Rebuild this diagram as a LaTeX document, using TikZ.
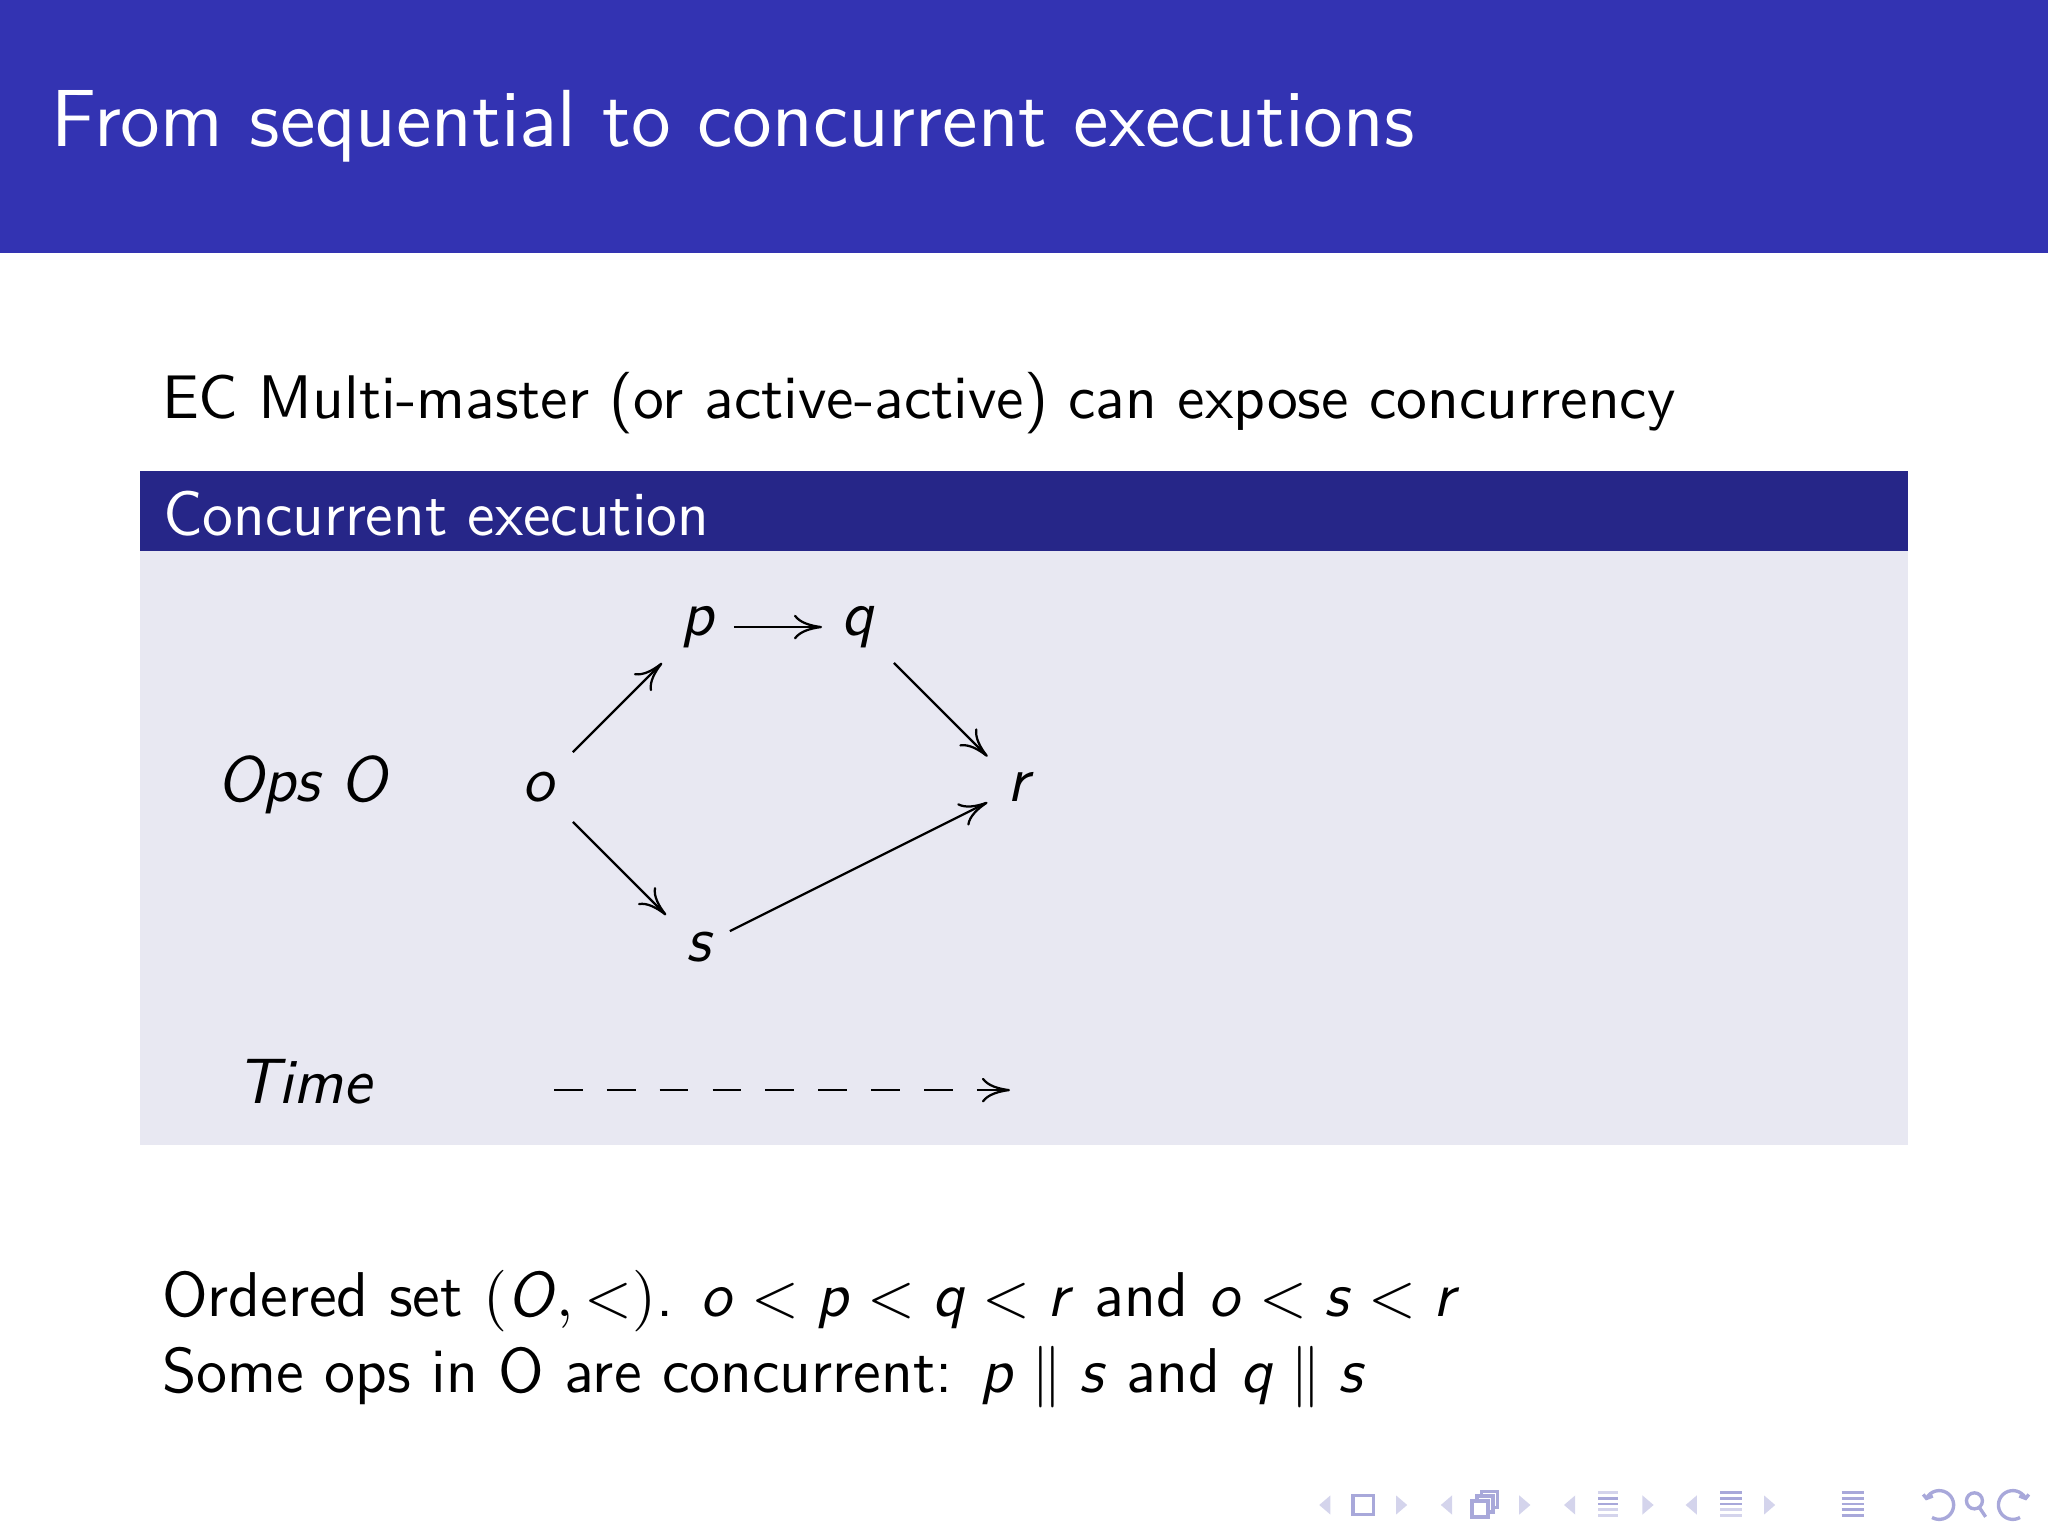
\documentclass[tikz,border=0pt]{standalone}
\usepackage{tikz}
\usetikzlibrary{
    arrows.meta,
    positioning,
    calc
}
\definecolor{title blue}{RGB}{51,51,178}
\definecolor{block blue}{RGB}{38,38,136}
\definecolor{block body}{RGB}{232,232,242}
\definecolor{nav dark}{RGB}{168,168,218}
\definecolor{nav light}{RGB}{212,212,236}
\newcommand{\mv}[1]{\textsf{\textit{#1}}}
\tikzset{
    % Text
    title text/.style={font=\sffamily\fontsize{14.4}{18}\selectfont,text=white,anchor=base west,inner sep=0pt},
    body text/.style={font=\sffamily\fontsize{10.95}{13.6}\selectfont,anchor=base west,inner sep=0pt},
    block title text/.style={font=\sffamily\fontsize{11.2}{14}\selectfont,text=white,anchor=base west,inner sep=0pt},
    lower text/.style={font=\sffamily\fontsize{11.25}{14}\selectfont,anchor=base west,inner sep=0pt},
    %
    % Nodes of the graph
    op/.style={font=\sffamily\itshape\fontsize{11.4}{14}\selectfont},
    %
    % Arrows
    arrow tip/.tip={To[length=5pt,width=4.4pt]},
    arr/.style={-{arrow tip}},
    time arrow/.style={arr,dash pattern=on 5.1pt off 4.3pt},
    %
    % Navigation symbols
    nav line/.style={nav dark,line width=.6pt},
    nav bar/.style={line width=.5pt}
}

\begin{document}
\begin{tikzpicture}
    \useasboundingbox (0,0) rectangle (12.8,9.6);
    % frame title
    \fill[title blue] (0,8.019) rectangle (12.8,9.6);
    \node[title text] (title) at (0.3125,8.6875) {From sequential to concurrent executions};
    \node[body text] (intro) at (1.006,6.9875) {EC Multi-master (or active-active) can expose concurrency};
    % block
    \fill[block body] (0.875,2.444) rectangle (11.925,6.156);
    \fill[block blue] (0.875,6.156) rectangle (11.925,6.656);
    \node[block title text] (blocktitle) at (1.0125,6.256) {Concurrent execution};
    \begin{scope}[shift={(3.3625,4.681)}]
        \node[op] (o) at (0,0) {o};
        \node[op] (p) at (1,1) {p};
        \node[op] (q) at (2,1) {q};
        \node[op] (r) at (3,0) {r};
        \node[op] (s) at (1,-1) {s};
        \node[op,anchor=base] (ops) at ($(o.base)+(-1.475,0)$) {Ops O};
        \node[op,anchor=base] (time) at ($(o.base)+(-1.465,-1.89)$) {Time};
        \coordinate (t0) at (0.1,-1.894);
        \coordinate (t1) at (2.95,-1.894);
        \draw[arr] (o) -- (p);
        \draw[arr] (p) -- (q);
        \draw[arr] (q) -- (r);
        \draw[arr] (o) -- (s);
        \draw[arr] (s) -- (r);
        \draw[time arrow] (t0) -- (t1);
    \end{scope}
    % below the block
    \node[lower text] (order) at (1.006,1.375) {Ordered set $(\mv{O},<)$. $\mv{o}<\mv{p}<\mv{q}<\mv{r}$ and $\mv{o}<\mv{s}<\mv{r}$};
    \node[lower text] (concur) at (1.006,0.9) {Some ops in O are concurrent: $\mv{p}\parallel\mv{s}$ and $\mv{q}\parallel\mv{s}$};
    % navigation symbols
    \foreach \x in {8.28,9.04,9.81,10.57}
        \fill[nav light] (\x+.035,.254) -- (\x-.035,.194) -- (\x+.035,.134) -- cycle;
    \foreach \x in {8.76,9.53,10.30,11.06}
        \fill[nav light] (\x-.035,.254) -- (\x+.035,.194) -- (\x-.035,.134) -- cycle;
    \draw[nav line] (8.455,.134) rectangle (8.585,.254);
    \foreach \d in {.06,.03,0}
        \filldraw[nav line,fill=white] (9.20+\d,.12+\d) rectangle (9.30+\d,.22+\d);
    \foreach \y/\c in {.27/nav light,.235/nav dark,.20/nav dark,.165/nav light,.13/nav light}
        \draw[nav bar,\c] (9.99,\y) -- (10.11,\y);
    \foreach \y/\c in {.27/nav dark,.235/nav dark,.20/nav dark,.165/nav light,.13/nav light}
        \draw[nav bar,\c] (10.75,\y) -- (10.89,\y);
    \foreach \y in {.27,.235,.20,.165,.13}
        \draw[nav bar,nav dark] (11.51,\y) -- (11.65,\y);
    \draw[nav line] (12.12,.194) ++(150:.09) arc[start angle=150,end angle=-120,radius=.09];
    \draw[nav line] (12.02,.26) -- (12.04,.235) -- (12.08,.25);
    \draw[nav line] (12.34,.22) circle[radius=.05] (12.37,.18) -- (12.41,.12);
    \draw[nav line] (12.58,.194) ++(30:.09) arc[start angle=30,end angle=300,radius=.09];
    \draw[nav line] (12.68,.26) -- (12.66,.235) -- (12.62,.25);
\end{tikzpicture}
\end{document}
